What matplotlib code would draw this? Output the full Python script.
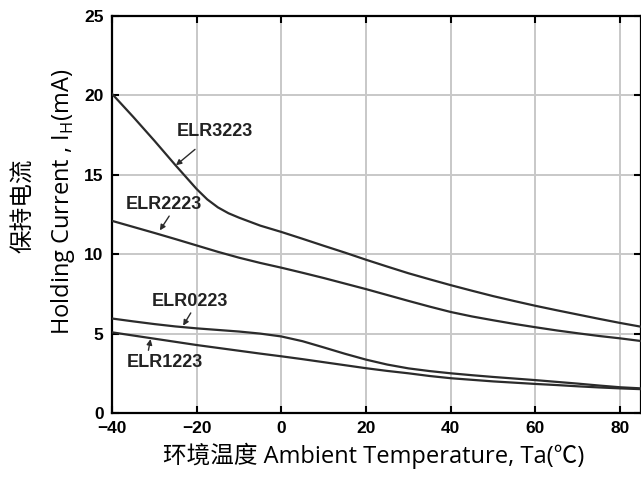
import matplotlib
matplotlib.use('Agg')
import matplotlib.pyplot as plt

# temperature points (degC)
temps = [-40, -35, -30, -25, -20, -15, -10, -5, 0, 5, 10, 15, 20,
         25, 30, 35, 40, 45, 50, 55, 60, 65, 70, 75, 80, 85]
# ELR3223 bends sharply near -15 degC, read at finer steps there
temps_3223 = [-40, -35, -30, -25, -20, -17.5, -15, -12.5, -10, -5, 0, 5, 10, 15, 20,
              25, 30, 35, 40, 45, 50, 55, 60, 65, 70, 75, 80, 85]

elr3223 = [20.1, 18.65, 17.15, 15.6, 14.1, 13.45, 12.95, 12.58, 12.3, 11.8, 11.4, 10.97, 10.53, 10.1, 9.65,
           9.22, 8.8, 8.42, 8.05, 7.7, 7.36, 7.05, 6.75, 6.47, 6.2, 5.93, 5.67, 5.43]
elr2223 = [12.1, 11.72, 11.34, 10.95, 10.55, 10.15, 9.78, 9.45, 9.15, 8.83, 8.5, 8.15, 7.8,
           7.43, 7.06, 6.7, 6.36, 6.08, 5.84, 5.61, 5.4, 5.2, 5.02, 4.85, 4.7, 4.53]
elr0223 = [5.95, 5.77, 5.6, 5.45, 5.33, 5.23, 5.13, 5.0, 4.82, 4.52, 4.13, 3.73, 3.36,
           3.05, 2.81, 2.64, 2.5, 2.38, 2.27, 2.17, 2.07, 1.96, 1.85, 1.73, 1.62, 1.55]
elr1223 = [5.08, 4.88, 4.68, 4.48, 4.28, 4.1, 3.92, 3.74, 3.57, 3.39, 3.2, 3.01, 2.82,
           2.65, 2.5, 2.33, 2.19, 2.09, 1.99, 1.91, 1.83, 1.76, 1.68, 1.61, 1.55, 1.5]

series = [(temps_3223, elr3223), (temps, elr2223), (temps, elr0223), (temps, elr1223)]
names = ['ELR3223', 'ELR2223', 'ELR0223', 'ELR1223']
# label text position and arrow (tail -> head) in data units
label_xy = [(-15.8, 17.75), (-27.7, 13.1), (-21.6, 7.0), (-27.5, 3.15)]
arrow_tail = [(-20.4, 16.6), (-26.5, 12.4), (-21.4, 6.3), (-31.4, 3.95)]
arrow_head = [(-24.9, 15.6), (-28.7, 11.5), (-23.2, 5.5), (-30.9, 4.65)]

xticks = [-40, -20, 0, 20, 40, 60, 80]
yticks = [0, 5, 10, 15, 20, 25]

fig = plt.figure(figsize=(6.41, 4.78), dpi=100)
ax = fig.add_axes([112 / 641, 65 / 478, 528.5 / 641, 397 / 478])

for xs, vals in series:
    ax.plot(xs, vals, color='#2b2b2b', lw=1.6, zorder=3)

for name, (lx, ly), tail, head in zip(names, label_xy, arrow_tail, arrow_head):
    ax.text(lx, ly, name, ha='center', va='center', fontsize=13,
            fontweight='bold', family='Liberation Sans', color='#222222')
    ax.annotate('', xy=head, xytext=tail,
                arrowprops=dict(arrowstyle='-|>', color='#2b2b2b', lw=1.0,
                                mutation_scale=8, shrinkA=0, shrinkB=0))

ax.set_xlim(-40, 84.8)
ax.set_ylim(0, 25)
ax.set_xticks(xticks)
ax.set_yticks(yticks)
ax.grid(True, color='#c8c8c8', lw=1.4)
ax.set_axisbelow(True)
for s in ax.spines.values():
    s.set_linewidth(1.6)
ax.tick_params(direction='in', length=5, width=1.5, top=True, right=True,
               labelsize=12.5, pad=6)
for lab in ax.get_xticklabels() + ax.get_yticklabels():
    lab.set_fontfamily('Liberation Sans')
    lab.set_fontweight('bold')

lab_fonts = ['Open Sans', 'Noto Sans CJK SC', 'DejaVu Sans']
fig.text(374 / 641, 1 - 456 / 478, '环境温度 Ambient Temperature, Ta(℃)',
         ha='center', va='center', fontsize=17, family=lab_fonts)
fig.text(24 / 641, 1 - 206 / 478, '保持电流', rotation=90,
         ha='center', va='center', fontsize=17, family=lab_fonts)
fig.text(63 / 641, 1 - 202 / 478, 'Holding Current , I$_\\mathregular{H}$(mA)', rotation=90,
         ha='center', va='center', fontsize=17, family=lab_fonts)

fig.savefig('out.png', dpi=100)
